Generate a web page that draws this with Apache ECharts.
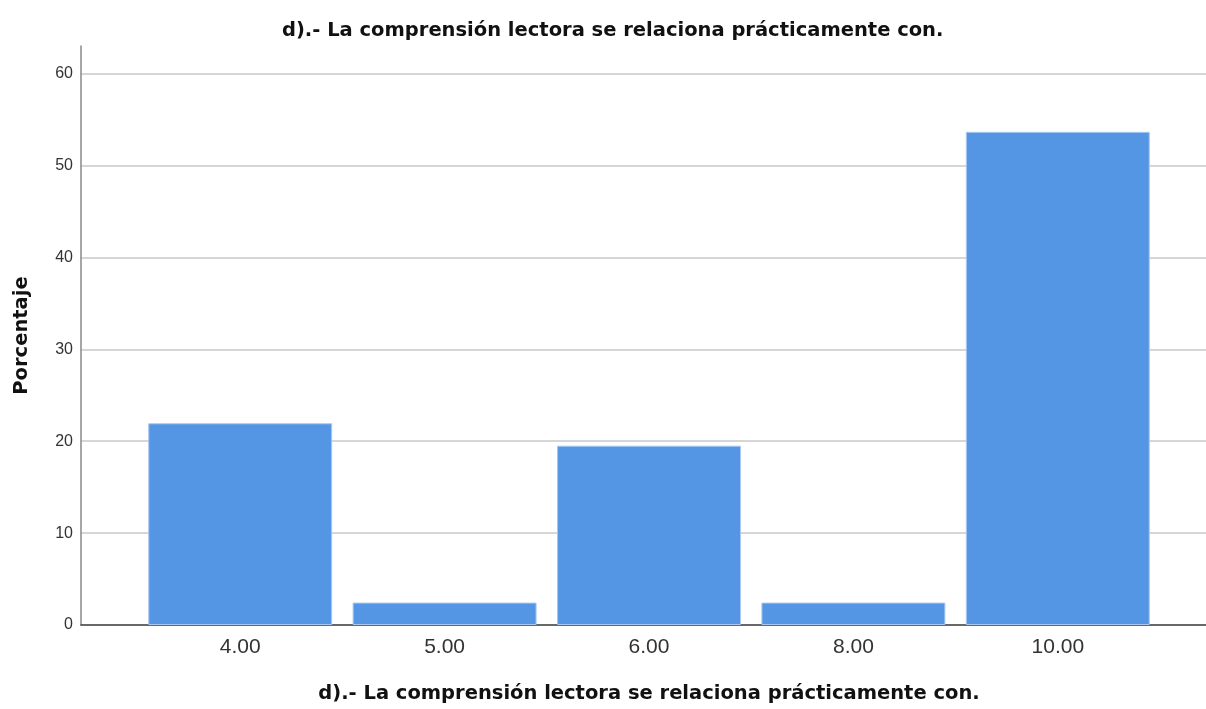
<!DOCTYPE html>
<html><head><meta charset="utf-8">
<script src="https://cdn.jsdelivr.net/npm/echarts@6/dist/echarts.min.js"></script>
<style>html,body{margin:0;padding:0;background:#fff}#c{width:1206px;height:709px}</style>
</head><body><div id="c"></div>
<script>
const categories = ['4.00', '5.00', '6.00', '8.00', '10.00'];
const percentages = [21.95, 2.44, 19.51, 2.44, 53.66];
const yTicks = [0, 10, 20, 30, 40, 50, 60];
const titleText = 'd).- La comprensión lectora se relaciona prácticamente con.';

const chart = echarts.init(document.getElementById('c'), null, {renderer: 'canvas'});
const font = 'Liberation Sans, Arial, sans-serif';
const boldFont = 'DejaVu Sans, sans-serif';
chart.setOption({
  animation: false,
  backgroundColor: '#ffffff',
  title: {
    text: titleText, left: 277, top: 16,
    textStyle: {fontFamily: boldFont, fontSize: 19.5, fontWeight: 'bold', color: '#111'}
  },
  grid: [
    {left: 81, right: 0, top: 46, bottom: 84},
    {left: 138, right: 46, top: 46, bottom: 84}
  ],
  xAxis: [
    {gridIndex: 0, type: 'value', min: 0, max: 1,
      axisLine: {show: true, onZero: false, lineStyle: {color: '#444', width: 1.5}},
      axisTick: {show: false}, axisLabel: {show: false}, splitLine: {show: false}},
    {gridIndex: 1, type: 'category', data: categories,
      axisLine: {show: false}, axisTick: {show: false},
      axisLabel: {fontFamily: font, fontSize: 21, color: '#333', margin: 12},
      name: titleText, nameLocation: 'middle', nameGap: 59,
      nameTextStyle: {fontFamily: boldFont, fontSize: 19.5, fontWeight: 'bold', color: '#111'}}
  ],
  yAxis: [
    {gridIndex: 0, type: 'value', min: 0, max: 63, interval: 10,
      axisLine: {show: true, lineStyle: {color: '#888', width: 1.5}},
      axisTick: {show: false},
      axisLabel: {fontFamily: font, fontSize: 16, color: '#333', margin: 8, showMaxLabel: false,
        formatter: v => yTicks.includes(v) ? String(v) : ''},
      splitLine: {show: true, showMaxLine: false, lineStyle: {color: '#c8c8c8', width: 1.5}},
      name: 'Porcentaje', nameLocation: 'middle', nameGap: 49,
      nameTextStyle: {fontFamily: boldFont, fontSize: 19.5, fontWeight: 'bold', color: '#111'}},
    {gridIndex: 1, type: 'value', min: 0, max: 63, show: false}
  ],
  series: [{
    type: 'bar', xAxisIndex: 1, yAxisIndex: 1,
    data: percentages, barCategoryGap: '10%',
    itemStyle: {color: '#5596e4', borderColor: '#a8c8f0', borderWidth: 1}
  }]
});
</script></body></html>
